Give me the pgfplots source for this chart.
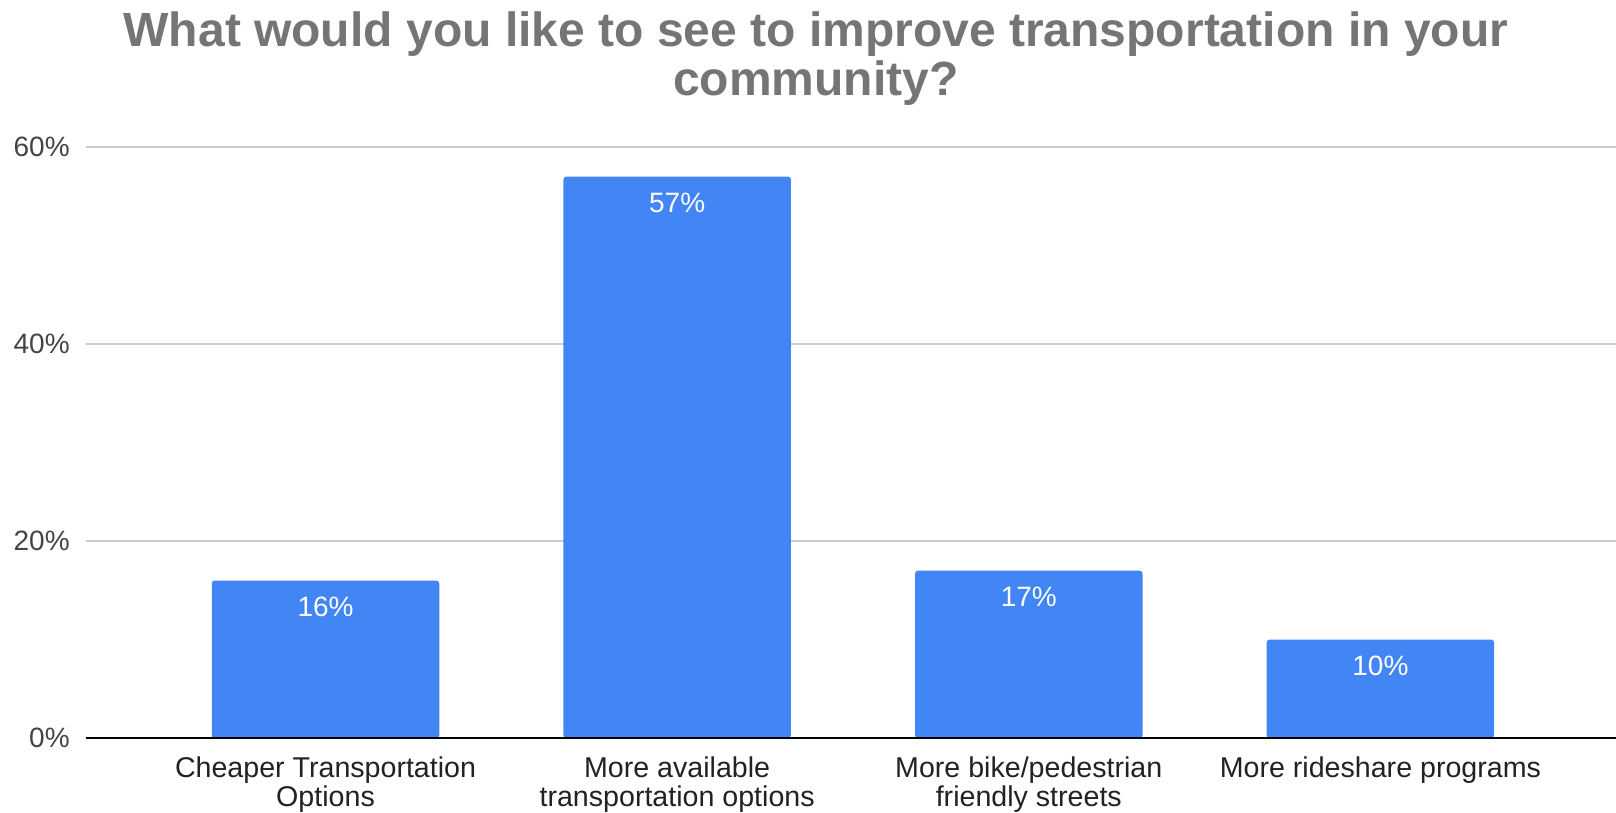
\documentclass[border=0pt]{standalone}
\usepackage{fontspec}
\setmainfont{Liberation Sans}
\usepackage{pgfplots}
\pgfplotsset{compat=1.18}
\definecolor{barblue}{HTML}{4285F4}
\definecolor{titlegray}{HTML}{757575}
\definecolor{gridgray}{HTML}{CCCCCC}
\definecolor{ticktext}{HTML}{444444}
\definecolor{labeltext}{HTML}{222222}
\definecolor{baseline}{HTML}{333333}

\begin{document}
\begin{tikzpicture}
\begin{axis}[
    at={(0,0)}, anchor=south west,
    scale only axis,
    width=765pt, height=295.5pt,
    xmin=-0.682, xmax=3.67,
    ymin=0, ymax=60,
    axis x line*=bottom, axis y line*=left,
    axis line style={draw=none},
    major tick length=0pt,
    ymajorgrids,
    grid style={gridgray, line width=0.8pt},
    ytick={0,20,40,60},
    yticklabels={0\%,20\%,40\%,60\%},
    yticklabel style={anchor=east, inner sep=0pt, xshift=-7.8pt,
        font=\fontsize{14}{16}\selectfont, text=ticktext},
    xtick={0,1,2,3},
    xticklabels={{Cheaper Transportation\\Options},
                 {More available\\transportation options},
                 {More bike/pedestrian\\friendly streets},
                 {More rideshare programs}},
    xticklabel style={align=center, anchor=north, inner sep=0pt, yshift=-9.1pt,
        font=\fontsize{14.3}{14.6}\selectfont, text=labeltext},
    clip=false,
]
\addplot[ybar, bar width=0.647, fill=barblue, draw=none, rounded corners=1.5pt,
    nodes near coords={\pgfmathprintnumber{\pgfplotspointmeta}\%},
    nodes near coords align={below},
    every node near coord/.append style={anchor=north, inner sep=0pt, yshift=-7.8pt,
        text=white, font=\fontsize{14}{16}\selectfont,
        /pgf/number format/assume math mode=true},
] coordinates {
    (0,16)
    (1,57)
    (2,17)
    (3,10)
};
\draw[baseline, line width=1pt] (rel axis cs:0,0) -- (rel axis cs:1,0);
\end{axis}
% title
\node[anchor=base, text=titlegray, font=\fontsize{24}{24}\selectfont\bfseries]
    at (365pt,345.6pt) {What would you like to see to improve transportation in your};
\node[anchor=base, text=titlegray, font=\fontsize{24}{24}\selectfont\bfseries]
    at (365pt,321.5pt) {community?};
\pgfresetboundingbox
\useasboundingbox (-42.85pt,-37pt) rectangle (765pt,369pt);
\end{tikzpicture}
\end{document}
